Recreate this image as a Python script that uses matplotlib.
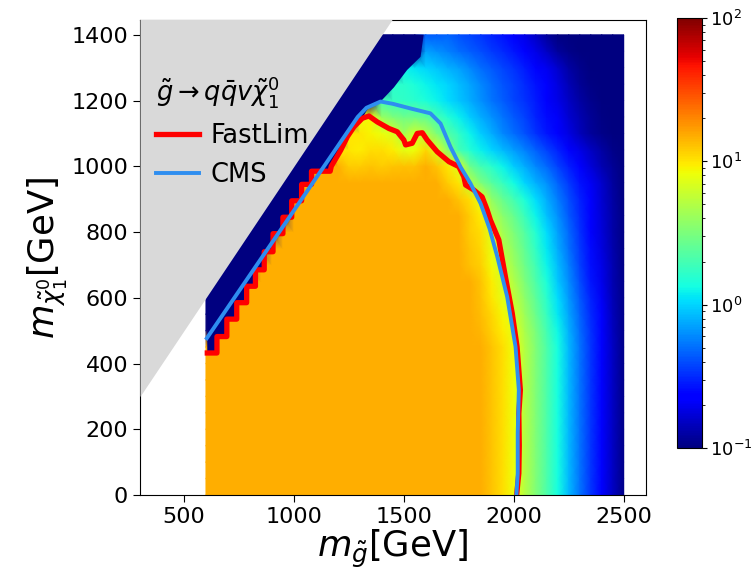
import numpy as np
import matplotlib
matplotlib.use('Agg')
import matplotlib.pyplot as plt
from matplotlib.colors import LogNorm

# === Scan grid (GeV) ===
m_gluino = list(range(600, 2501, 50))   # 39 columns
m_lsp = list(range(0, 1401, 50))        # 29 rows

# log10 of the plotted quantity
N = -1.0   # dark blue (compressed corner)
O = 1.17   # orange (excluded region)

log_rows = [
    [O] * 26 + [1.1, 1.02, 0.92, 0.7, 0.52, 0.33, 0.13, -0.08, -0.28, -0.47, -0.64, -0.82, -0.97],  # 0
    [O] * 26 + [1.1, 1.02, 0.92, 0.7, 0.52, 0.33, 0.13, -0.08, -0.28, -0.47, -0.64, -0.82, -0.97],  # 50
    [O] * 26 + [1.1, 1.02, 0.92, 0.7, 0.52, 0.33, 0.13, -0.08, -0.28, -0.47, -0.64, -0.82, -0.97],  # 100
    [O] * 26 + [1.1, 1.02, 0.92, 0.7, 0.52, 0.33, 0.13, -0.08, -0.28, -0.47, -0.64, -0.82, -0.97],  # 150
    [O] * 26 + [1.1, 1.02, 0.92, 0.7, 0.52, 0.33, 0.13, -0.08, -0.28, -0.47, -0.64, -0.82, -0.97],  # 200
    [O] * 26 + [1.1, 1.02, 0.92, 0.7, 0.52, 0.33, 0.13, -0.08, -0.28, -0.47, -0.64, -0.82, -0.97],  # 250
    [O] * 26 + [1.1, 1.02, 0.92, 0.7, 0.52, 0.33, 0.13, -0.08, -0.28, -0.47, -0.64, -0.82, -0.97],  # 300
    [O] * 26 + [1.1, 1.02, 0.92, 0.7, 0.52, 0.33, 0.13, -0.08, -0.28, -0.47, -0.64, -0.82, -0.97],  # 350
    [O] * 26 + [1.1, 1.02, 0.92, 0.7, 0.52, 0.33, 0.13, -0.08, -0.28, -0.47, -0.64, -0.82, -0.97],  # 400
    [O] * 26 + [1.1, 1.02, 0.92, 0.7, 0.52, 0.33, 0.13, -0.08, -0.28, -0.47, -0.64, -0.82, -0.97],  # 450
    [N] * 1 + [O] * 24 + [1.15, 1.07, 0.98, 0.88, 0.67, 0.49, 0.3, 0.11, -0.1, -0.3, -0.48, -0.65, -0.83, -0.97],  # 500
    [N] * 2 + [O] * 23 + [1.13, 1.04, 0.94, 0.82, 0.62, 0.44, 0.25, 0.06, -0.14, -0.33, -0.5, -0.67, -0.84, -0.97],  # 550
    [N] * 3 + [O] * 22 + [1.12, 1.0, 0.88, 0.75, 0.56, 0.39, 0.2, 0.02, -0.17, -0.36, -0.53, -0.69, -0.85, -0.97],  # 600
    [N] * 4 + [O] * 21 + [1.1, 0.97, 0.83, 0.69, 0.5, 0.33, 0.15, -0.03, -0.21, -0.4, -0.56, -0.71, -0.86, -0.97],  # 650
    [N] * 5 + [O] * 19 + [1.12, 1.07, 0.93, 0.77, 0.62, 0.45, 0.28, 0.1, -0.07, -0.25, -0.43, -0.58, -0.73, -0.87, -0.98],  # 700
    [N] * 6 + [O] * 18 + [1.1, 1.05, 0.89, 0.71, 0.56, 0.4, 0.23, 0.06, -0.11, -0.29, -0.46, -0.6, -0.75, -0.88, -0.98],  # 750
    [N] * 7 + [O] * 17 + [1.08, 1.02, 0.85, 0.65, 0.5, 0.35, 0.18, 0.02, -0.15, -0.32, -0.48, -0.62, -0.76, -0.89, -0.98],  # 800
    [N] * 8 + [O] * 16 + [1.08, 0.98, 0.72, 0.55, 0.42, 0.26, 0.1, -0.06, -0.2, -0.36, -0.5, -0.63, -0.77, -0.89, -0.98],  # 850
    [N] * 8 + [O] * 15 + [1.1, 1.02, 0.88, 0.58, 0.42, 0.3, 0.16, 0.02, -0.12, -0.26, -0.4, -0.53, -0.66, -0.78, -0.9, -0.99],  # 900
    [N] * 9 + [O] * 13 + [1.08, 1.0, 0.72, 0.5, 0.36, 0.25, 0.12, 0.0, -0.1, -0.2, -0.33, -0.45, -0.57, -0.69, -0.8, -0.91, -0.99],  # 950
    [N] * 10 + [O] * 3 + [1.08, 1.08, 1.1, 1.08, 1.1, 1.12, 1.12, 1.17]
    + [1.1, 1.0, 0.85, 0.45, 0.3, 0.2, 0.1, -0.02, -0.12, -0.22, -0.32, -0.43, -0.54, -0.65, -0.76, -0.86, -0.94, -1.0],  # 1000
    [N] * 12 + [1.0, 1.0, 0.98, 1.02, 1.02, 0.98, 0.88, 0.92, 1.05]
    + [0.85, 0.55, 0.3, 0.18, 0.08, 0.0, -0.08, -0.16, -0.25, -0.34, -0.43, -0.52, -0.62, -0.72, -0.82, -0.9, -0.97, -1.0],  # 1050
    [N] * 13 + [1.0, 1.0, 0.95, 0.9, 0.85, 0.65, 0.8, 0.7, 0.5, 0.35, 0.22, 0.1, -0.02, -0.12, -0.22, -0.3,
                -0.38, -0.48, -0.56, -0.64, -0.74, -0.84, -0.92, -0.97, -1.0, -1.0],  # 1100
    [N] * 14 + [0.9, 0.95, 0.6, 0.5, 0.45, 0.45, 0.4, 0.3, 0.18, 0.08, -0.02, -0.12, -0.2, -0.28, -0.36,
                -0.43, -0.52, -0.6, -0.68, -0.78, -0.87, -0.94, -0.98, -1.0, -1.0],  # 1150
    [N] * 16 + [0.3, 0.25, 0.22, 0.2, 0.15, 0.1, 0.02, -0.05, -0.12, -0.2, -0.28, -0.35, -0.42, -0.48,
                -0.55, -0.63, -0.72, -0.82, -0.9, -0.96, -1.0, -1.0, -1.0],  # 1200
    [N] * 17 + [0.2, 0.2, 0.15, 0.1, 0.05, 0.0, -0.07, -0.14, -0.22, -0.3, -0.37, -0.43, -0.5, -0.57,
                -0.65, -0.75, -0.85, -0.93, -0.98, -1.0, -1.0, -1.0],  # 1250
    [N] * 18 + [0.1, 0.05, 0.0, -0.05, -0.1, -0.15, -0.22, -0.3, -0.36, -0.42, -0.48, -0.55, -0.62, -0.7,
                -0.8, -0.9, -0.96, -1.0, -1.0, -1.0, -1.0],  # 1300
    [N] * 20 + [-0.15, -0.2, -0.25, -0.3, -0.35, -0.4, -0.45, -0.5, -0.56, -0.63, -0.72, -0.82, -0.92,
                -0.97, -1.0, -1.0, -1.0, -1.0, -1.0],  # 1350
    [N] * 20 + [-0.35, -0.35, -0.33, -0.38, -0.42, -0.47, -0.52, -0.57, -0.63, -0.72, -0.82, -0.92,
                -1.0, -1.0, -1.0, -1.0, -1.0, -1.0, -1.0],  # 1400
]

# === Exclusion contours ===
fastlim_x = [606, 650, 650, 695, 695, 740, 740, 785, 785, 825, 825, 865, 865, 905, 905, 950, 950,
             990, 990, 1035, 1035, 1080, 1080, 1165, 1170, 1213, 1243, 1273, 1311, 1341, 1379, 1432,
             1470, 1500, 1508, 1538, 1561, 1584, 1606, 1652, 1705, 1750, 1773, 1781, 1818, 1856,
             1879, 1894, 1932, 1962, 1993, 2015, 2030, 2023, 2025, 2023, 2013]
fastlim_y = [432, 432, 482, 482, 535, 535, 585, 585, 635, 635, 685, 685, 740, 740, 795, 795, 845,
             845, 895, 895, 945, 945, 985, 985, 1000, 1049, 1090, 1120, 1146, 1153, 1135, 1115,
             1105, 1080, 1065, 1070, 1100, 1102, 1080, 1044, 1014, 999, 968, 943, 928, 907,
             867, 836, 776, 664, 553, 451, 319, 248, 150, 66, 0]

cms_x = [604, 1290, 1330, 1394, 1450, 1530, 1621, 1667, 1712, 1758, 1803, 1849, 1890, 1925,
         1970, 2008, 2023, 2018, 2018, 2012]
cms_y = [477, 1150, 1178, 1197, 1190, 1176, 1161, 1130, 1059, 998, 948, 887, 810, 725,
         603, 451, 320, 188, 66, 0]

# upper edge of the dark-blue corner, after the FastLim staircase ends at its peak
navy_edge_x = [1340, 1394, 1455, 1515, 1576, 1590, 600]
navy_edge_y = [1180, 1197, 1240, 1293, 1333, 1400, 1400]

# kinematically forbidden region m_chi > m_gluino
diag = [300, 1460]

# === Figure ===
fig = plt.figure(figsize=(7.54, 5.76), dpi=100)
ax = fig.add_axes([140 / 754, 81 / 576, 505.7 / 754, 475 / 576])
cax = fig.add_axes([677 / 754, 128 / 576, 25 / 754, 430 / 576])

norm = LogNorm(vmin=0.1, vmax=100)
values = 10 ** np.array(log_rows)
mesh = ax.pcolormesh(m_gluino, m_lsp, values, cmap='jet', norm=norm,
                     shading='gouraud', zorder=1)

k = fastlim_x.index(1311) + 1
ax.fill(fastlim_x[:k] + navy_edge_x, fastlim_y[:k] + navy_edge_y,
        color=plt.cm.jet(0.0), lw=0, zorder=2)

ax.fill_between(diag, diag, diag[1], color='#d9d9d9', lw=0, zorder=3)

ax.plot(fastlim_x, fastlim_y, color='red', lw=3.8, solid_joinstyle='round', zorder=4, label='FastLim')
ax.plot(cms_x, cms_y, color='#2e8ef0', lw=2.8, zorder=5, label='CMS')

ax.set_xlim(300, 2600)
ax.set_ylim(0, 1445)
ax.set_xticks([500, 1000, 1500, 2000, 2500])
ax.set_yticks(range(0, 1401, 200))
ax.tick_params(labelsize=16, length=5)
ax.set_xlabel(r'$m_{\tilde{g}}$[GeV]', fontsize=25.5, labelpad=1)
ax.set_ylabel(r'$m_{\tilde{\chi}_1^0}$[GeV]', fontsize=25.5, labelpad=2)

leg = ax.legend(loc='upper left', bbox_to_anchor=(-0.015, 0.935), frameon=False,
                fontsize=18.5, title=r'$\tilde{g}\to q\bar{q}v\tilde{\chi}_1^0$',
                title_fontsize=18.5, handlelength=1.7, handletextpad=0.45,
                labelspacing=0.5, alignment='left')

cbar = fig.colorbar(mesh, cax=cax, alpha=0.85)
cbar.ax.tick_params(labelsize=13, pad=2)

fig.savefig('out.png', dpi=100)
